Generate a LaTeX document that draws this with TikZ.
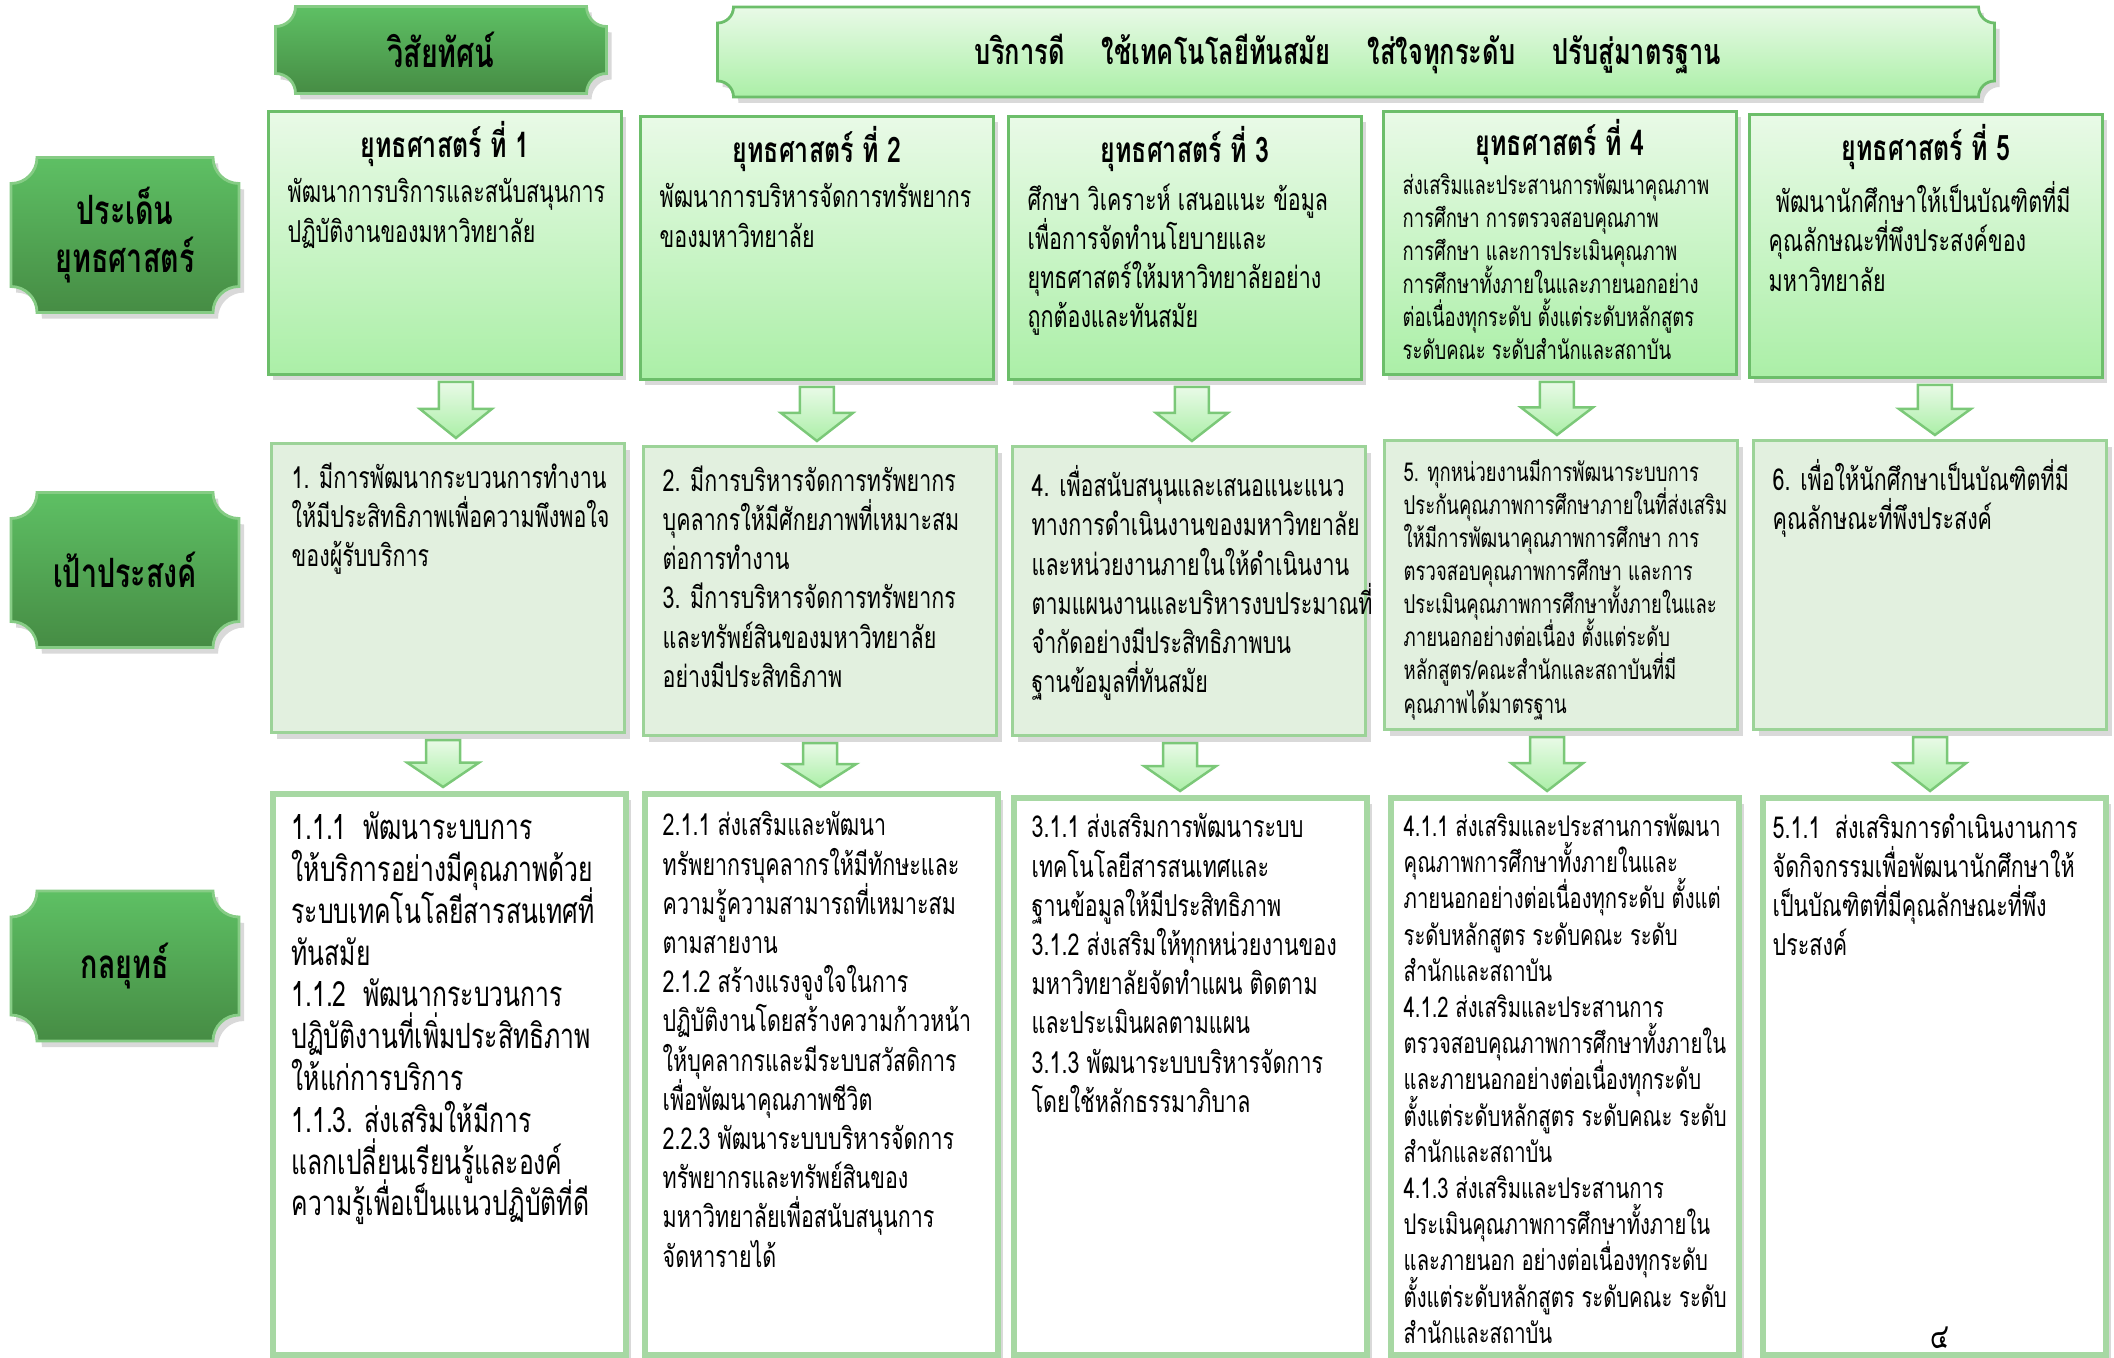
\documentclass[tikz,border=0pt]{standalone}
\usepackage{fontspec}
\newfontfamily\thaifont[Script=Thai,FakeStretch=0.71]{Loma}
\usetikzlibrary{calc,shadows}
\lineskiplimit=-20pt

\definecolor{plaquetop}{HTML}{5EC064}
\definecolor{plaquebot}{HTML}{468C44}
\definecolor{plaqueline}{HTML}{86CC85}
\definecolor{lighttop}{HTML}{E9FAE7}
\definecolor{lightbot}{HTML}{ABEFA7}
\definecolor{lightline}{HTML}{6CBE6A}
\definecolor{goalfill}{HTML}{E2F0DF}
\definecolor{goalline}{HTML}{9CD398}
\definecolor{tactline}{HTML}{A7D8A3}
\definecolor{arrowline}{HTML}{7BC878}

\newcommand{\plaquepath}[2]{([xshift=#2]#1.north west) -- ([xshift=-#2]#1.north east) arc[start angle=180,end angle=270,radius=#2] -- ([yshift=#2]#1.south east) arc[start angle=90,end angle=180,radius=#2] -- ([xshift=#2]#1.south west) arc[start angle=0,end angle=90,radius=#2] -- ([yshift=-#2]#1.north west) arc[start angle=270,end angle=360,radius=#2] -- cycle}
\newcommand{\blockarrow}[3][0cm]{\draw[barrow] let \p1=([xshift=#1]#2.south), \p2=(#3.north) in (\x1-0.17cm,\y1-0.06cm) -- (\x1+0.17cm,\y1-0.06cm) -- (\x1+0.17cm,{(\y1+\y2)/2}) -- (\x1+0.36cm,{(\y1+\y2)/2}) -- (\x1,\y2+0.04cm) -- (\x1-0.36cm,{(\y1+\y2)/2}) -- (\x1-0.17cm,{(\y1+\y2)/2}) -- cycle;}

\begin{document}
\begin{tikzpicture}[
    shade/.style={drop shadow={opacity=0.3,shadow xshift=0.05cm,shadow yshift=-0.06cm}},
    holder/.style={inner sep=0pt,outer sep=0pt},
    plaque/.style={top color=plaquetop,bottom color=plaquebot,draw=plaqueline,line width=0.8pt,shade},
    lightplaque/.style={top color=lighttop,bottom color=lightbot,draw=lightline,line width=0.8pt,shade},
    sbox/.style={anchor=north west,top color=lighttop,bottom color=lightbot,draw=lightline,line width=0.8pt,minimum width=3.53cm,minimum height=2.63cm,shade},
    gbox/.style={anchor=north west,fill=goalfill,draw=goalline,line width=0.9pt,minimum width=3.53cm,minimum height=2.89cm,shade},
    tbox/.style={anchor=north west,fill=white,draw=tactline,line width=1.6pt,minimum width=3.53cm,minimum height=5.61cm,shade},
    barrow/.style={top color=lighttop,bottom color=lightbot,draw=arrowline,line width=0.7pt},
    label/.style={font=\thaifont\bfseries\fontsize{11.5}{13.5}\selectfont,align=center},
    head/.style={font=\thaifont\bfseries\fontsize{10}{12}\selectfont},
    body/.style={anchor=north west,inner sep=0pt,align=left,font=\thaifont\fontsize{8.6}{11.15}\selectfont},
    small/.style={body,font=\thaifont\fontsize{7.4}{9.4}\selectfont},
    big/.style={body,font=\thaifont\fontsize{9.9}{11.9}\selectfont},
    mid/.style={body,font=\thaifont\fontsize{8.1}{10.3}\selectfont}
  ]
  \useasboundingbox (0,0) rectangle (21.14,-13.57);

  \node[holder,minimum width=2.28cm,minimum height=1.55cm] (l1) at (1.25,-2.35) {};
  \node[holder,minimum width=2.28cm,minimum height=1.55cm] (l2) at (1.25,-5.70) {};
  \node[holder,minimum width=2.28cm,minimum height=1.50cm] (l3) at (1.25,-9.66) {};
  \node[holder,minimum width=3.31cm,minimum height=0.87cm] (vis) at (4.41,-0.50) {};
  \node[holder,minimum width=12.77cm,minimum height=0.90cm] (mis) at (13.56,-0.52) {};
  \draw[plaque] \plaquepath{l1}{0.26cm};
  \draw[plaque] \plaquepath{l2}{0.26cm};
  \draw[plaque] \plaquepath{l3}{0.26cm};
  \draw[plaque] \plaquepath{vis}{0.2cm};
  \draw[lightplaque] \plaquepath{mis}{0.16cm};
  \node[label] (l1t) at (l1) {ประเด็น\\ยุทธศาสตร์};
  \node[label] (l2t) at (l2) {เป้าประสงค์};
  \node[label] (l3t) at (l3) {กลยุทธ์};
  \node[label] (vist) at (vis) {วิสัยทัศน์};
  \node[head,font=\thaifont\bfseries\fontsize{10.2}{12}\selectfont] (mist) at (13.48,-0.54) {บริการดี\hspace{0.8em} ใช้เทคโนโลยีทันสมัย\hspace{0.8em} ใส่ใจทุกระดับ\hspace{0.8em} ปรับสู่มาตรฐาน};

  \node[sbox] (s1) at (2.67,-1.10) {};
  \node[sbox] (s2) at (6.39,-1.15) {};
  \node[sbox] (s3) at (10.07,-1.15) {};
  \node[sbox] (s4) at (13.82,-1.10) {};
  \node[sbox] (s5) at (17.48,-1.13) {};
  \node[gbox] (g1) at (2.70,-4.42) {};
  \node[gbox] (g2) at (6.42,-4.45) {};
  \node[gbox] (g3) at (10.11,-4.45) {};
  \node[gbox] (g4) at (13.83,-4.39) {};
  \node[gbox] (g5) at (17.52,-4.39) {};
  \node[tbox] (t1) at (2.70,-7.91) {};
  \node[tbox] (t2) at (6.42,-7.91) {};
  \node[tbox,minimum height=5.57cm] (t3) at (10.11,-7.95) {};
  \node[tbox,minimum width=3.48cm,minimum height=5.57cm] (t4) at (13.88,-7.95) {};
  \node[tbox,minimum width=3.43cm,minimum height=5.57cm] (t5) at (17.60,-7.95) {};

  \blockarrow[0.11cm]{s1}{g1}
  \blockarrow{s2}{g2}
  \blockarrow[0.07cm]{s3}{g3}
  \blockarrow[-0.03cm]{s4}{g4}
  \blockarrow[0.09cm]{s5}{g5}
  \blockarrow[-0.05cm]{g1}{t1}
  \blockarrow{g2}{t2}
  \blockarrow[-0.09cm]{g3}{t3}
  \blockarrow[-0.14cm]{g4}{t4}
  \blockarrow{g5}{t5}

  \node[head] (s1h) at ([yshift=-0.34cm]s1.north) {ยุทธศาสตร์ ที่ 1};
  \node[head] (s2h) at ([yshift=-0.34cm]s2.north) {ยุทธศาสตร์ ที่ 2};
  \node[head] (s3h) at ([yshift=-0.34cm]s3.north) {ยุทธศาสตร์ ที่ 3};
  \node[head] (s4h) at ([yshift=-0.32cm]s4.north) {ยุทธศาสตร์ ที่ 4};
  \node[head] (s5h) at ([yshift=-0.34cm]s5.north) {ยุทธศาสตร์ ที่ 5};
  \node[body] (s1b) at ([xshift=0.2cm,yshift=-0.68cm]s1.north west) {พัฒนาการบริการและสนับสนุนการ\\ปฏิบัติงานของมหาวิทยาลัย};
  \node[body] (s2b) at ([xshift=0.2cm,yshift=-0.68cm]s2.north west) {พัฒนาการบริหารจัดการทรัพยากร\\ของมหาวิทยาลัย};
  \node[body] (s3b) at ([xshift=0.2cm,yshift=-0.68cm]s3.north west) {ศึกษา วิเคราะห์ เสนอแนะ ข้อมูล\\เพื่อการจัดทำนโยบายและ\\ยุทธศาสตร์ให้มหาวิทยาลัยอย่าง\\ถูกต้องและทันสมัย};
  \node[small] (s4b) at ([xshift=0.2cm,yshift=-0.63cm]s4.north west) {ส่งเสริมและประสานการพัฒนาคุณภาพ\\การศึกษา การตรวจสอบคุณภาพ\\การศึกษา และการประเมินคุณภาพ\\การศึกษาทั้งภายในและภายนอกอย่าง\\ต่อเนื่องทุกระดับ ตั้งแต่ระดับหลักสูตร\\ระดับคณะ ระดับสำนักและสถาบัน};
  \node[body] (s5b) at ([xshift=0.2cm,yshift=-0.68cm]s5.north west) {\ พัฒนานักศึกษาให้เป็นบัณฑิตที่มี\\คุณลักษณะที่พึงประสงค์ของ\\มหาวิทยาลัย};

  \node[body] (g1b) at ([xshift=0.21cm,yshift=-0.2cm]g1.north west) {1. มีการพัฒนากระบวนการทำงาน\\ให้มีประสิทธิภาพเพื่อความพึงพอใจ\\ของผู้รับบริการ};
  \node[body] (g2b) at ([xshift=0.2cm,yshift=-0.2cm]g2.north west) {2. มีการบริหารจัดการทรัพยากร\\บุคลากรให้มีศักยภาพที่เหมาะสม\\ต่อการทำงาน\\3. มีการบริหารจัดการทรัพยากร\\และทรัพย์สินของมหาวิทยาลัย\\อย่างมีประสิทธิภาพ};
  \node[body] (g3b) at ([xshift=0.2cm,yshift=-0.2cm]g3.north west) {4. เพื่อสนับสนุนและเสนอแนะแนว\\ทางการดำเนินงานของมหาวิทยาลัย\\และหน่วยงานภายในให้ดำเนินงาน\\ตามแผนงานและบริหารงบประมาณที่\\จำกัดอย่างมีประสิทธิภาพบน\\ฐานข้อมูลที่ทันสมัย};
  \node[small] (g4b) at ([xshift=0.2cm,yshift=-0.2cm]g4.north west) {5. ทุกหน่วยงานมีการพัฒนาระบบการ\\ประกันคุณภาพการศึกษาภายในที่ส่งเสริม\\ให้มีการพัฒนาคุณภาพการศึกษา การ\\ตรวจสอบคุณภาพการศึกษา และการ\\ประเมินคุณภาพการศึกษาทั้งภายในและ\\ภายนอกอย่างต่อเนื่อง ตั้งแต่ระดับ\\หลักสูตร/คณะสำนักและสถาบันที่มี\\คุณภาพได้มาตรฐาน};
  \node[body] (g5b) at ([xshift=0.2cm,yshift=-0.2cm]g5.north west) {6. เพื่อให้นักศึกษาเป็นบัณฑิตที่มี\\คุณลักษณะที่พึงประสงค์};

  \node[big] (t1b) at ([xshift=0.21cm,yshift=-0.2cm]t1.north west) {1.1.1\ \ พัฒนาระบบการ\\ให้บริการอย่างมีคุณภาพด้วย\\ระบบเทคโนโลยีสารสนเทศที่\\ทันสมัย\\1.1.2\ \ พัฒนากระบวนการ\\ปฏิบัติงานที่เพิ่มประสิทธิภาพ\\ให้แก่การบริการ\\1.1.3. ส่งเสริมให้มีการ\\แลกเปลี่ยนเรียนรู้และองค์\\ความรู้เพื่อเป็นแนวปฏิบัติที่ดี};
  \node[body] (t2b) at ([xshift=0.2cm,yshift=-0.2cm]t2.north west) {2.1.1 ส่งเสริมและพัฒนา\\ทรัพยากรบุคลากรให้มีทักษะและ\\ความรู้ความสามารถที่เหมาะสม\\ตามสายงาน\\2.1.2 สร้างแรงจูงใจในการ\\ปฏิบัติงานโดยสร้างความก้าวหน้า\\ให้บุคลากรและมีระบบสวัสดิการ\\เพื่อพัฒนาคุณภาพชีวิต\\2.2.3 พัฒนาระบบบริหารจัดการ\\ทรัพยากรและทรัพย์สินของ\\มหาวิทยาลัยเพื่อสนับสนุนการ\\จัดหารายได้};
  \node[body] (t3b) at ([xshift=0.2cm,yshift=-0.18cm]t3.north west) {3.1.1 ส่งเสริมการพัฒนาระบบ\\เทคโนโลยีสารสนเทศและ\\ฐานข้อมูลให้มีประสิทธิภาพ\\3.1.2 ส่งเสริมให้ทุกหน่วยงานของ\\มหาวิทยาลัยจัดทำแผน ติดตาม\\และประเมินผลตามแผน\\3.1.3 พัฒนาระบบบริหารจัดการ\\โดยใช้หลักธรรมาภิบาล};
  \node[mid] (t4b) at ([xshift=0.15cm,yshift=-0.18cm]t4.north west) {4.1.1 ส่งเสริมและประสานการพัฒนา\\คุณภาพการศึกษาทั้งภายในและ\\ภายนอกอย่างต่อเนื่องทุกระดับ ตั้งแต่\\ระดับหลักสูตร ระดับคณะ ระดับ\\สำนักและสถาบัน\\4.1.2 ส่งเสริมและประสานการ\\ตรวจสอบคุณภาพการศึกษาทั้งภายใน\\และภายนอกอย่างต่อเนื่องทุกระดับ\\ตั้งแต่ระดับหลักสูตร ระดับคณะ ระดับ\\สำนักและสถาบัน\\4.1.3 ส่งเสริมและประสานการ\\ประเมินคุณภาพการศึกษาทั้งภายใน\\และภายนอก อย่างต่อเนื่องทุกระดับ\\ตั้งแต่ระดับหลักสูตร ระดับคณะ ระดับ\\สำนักและสถาบัน};
  \node[body] (t5b) at ([xshift=0.12cm,yshift=-0.18cm]t5.north west) {5.1.1\ \ ส่งเสริมการดำเนินงานการ\\จัดกิจกรรมเพื่อพัฒนานักศึกษาให้\\เป็นบัณฑิตที่มีคุณลักษณะที่พึง\\ประสงค์};

  \node[anchor=base,inner sep=0pt,font=\thaifont\fontsize{10}{12}\selectfont] (page) at (19.40,-13.48) {๔};
\end{tikzpicture}
\end{document}
